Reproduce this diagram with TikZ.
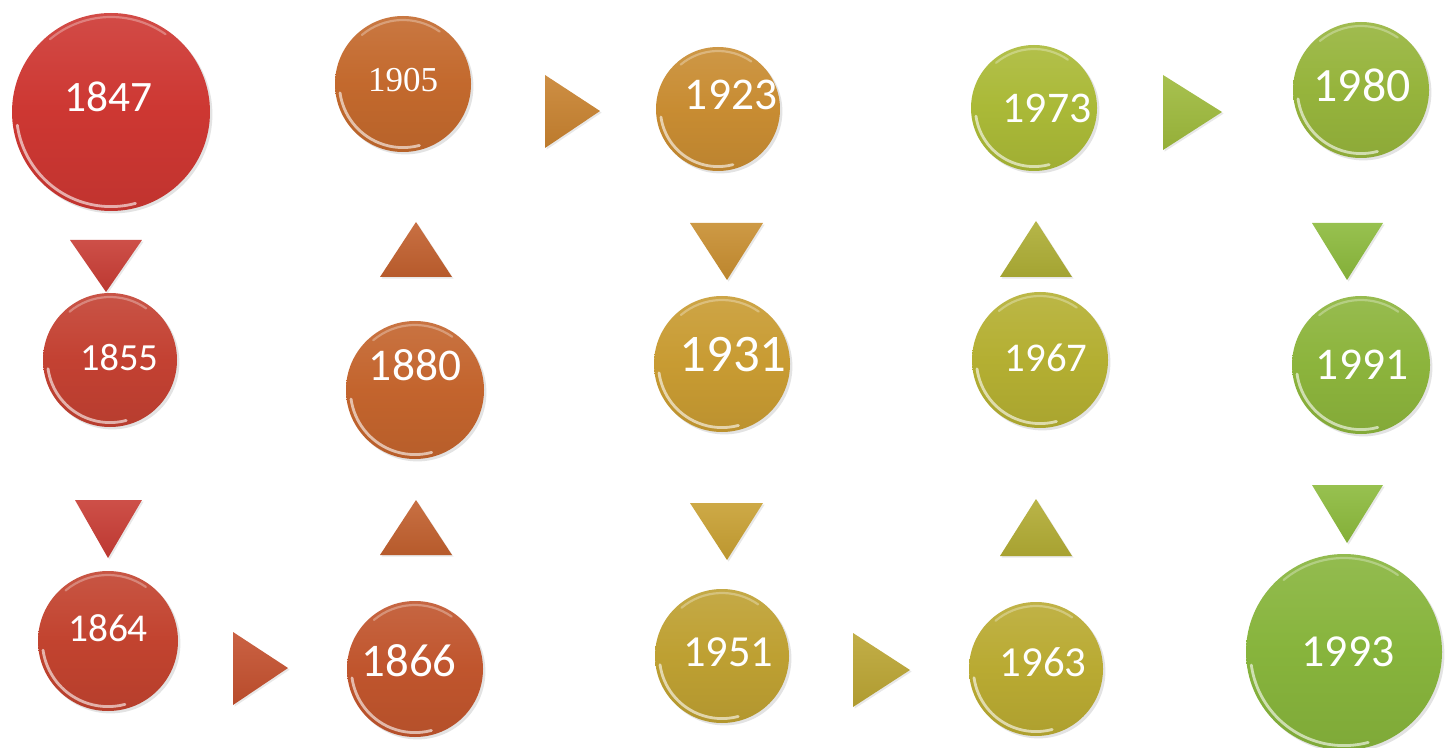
\documentclass[tikz,border=0pt]{standalone}
\usepackage{fontspec}
\setmainfont{Carlito}
\newfontfamily\cambriafont{Liberation Serif}
\usetikzlibrary{shadows}
\definecolor{c1847}{HTML}{CD3732}
\definecolor{c1855}{HTML}{C34132}
\definecolor{c1864}{HTML}{C2432F}
\definecolor{c1866}{HTML}{C0552D}
\definecolor{c1880}{HTML}{C3642D}
\definecolor{c1905}{HTML}{C3692D}
\definecolor{c1923}{HTML}{C88C32}
\definecolor{c1931}{HTML}{C89B32}
\definecolor{c1951}{HTML}{BEA032}
\definecolor{c1963}{HTML}{B9AA32}
\definecolor{c1967}{HTML}{B4AF32}
\definecolor{c1973}{HTML}{AAB937}
\definecolor{c1980}{HTML}{96B43C}
\definecolor{c1991}{HTML}{8CB43C}
\definecolor{c1993}{HTML}{87B43C}
\definecolor{tA}{HTML}{C83C34}
\definecolor{tB}{HTML}{C4502E}
\definecolor{tC}{HTML}{C2602E}
\definecolor{tD}{HTML}{C8822F}
\definecolor{tE}{HTML}{C88E30}
\definecolor{tF}{HTML}{C8A032}
\definecolor{tG}{HTML}{BBA533}
\definecolor{tH}{HTML}{AEAE35}
\definecolor{tI}{HTML}{B2AC34}
\definecolor{tJ}{HTML}{9EBA3C}
\definecolor{tK}{HTML}{8CBA3C}
\tikzset{
  ball/.style={circle, inner sep=0pt, outer sep=0pt,
    drop shadow={opacity=0.22, shadow xshift=1.2pt, shadow yshift=-1.2pt}},
  rim/.style={white, line width=1.4pt, opacity=0.6, line cap=round},
  sheen/.style={white, line width=1.1pt, opacity=0.3, line cap=round},
  yeartext/.style={text=white, inner sep=0pt},
  trishape/.style={drop shadow={opacity=0.18, shadow xshift=0.8pt, shadow yshift=-0.8pt}},
}
\newcommand\yball[5]{%
  \node[ball, minimum size=#4pt, top color=#5!90!white, bottom color=#5!94!black, middle color=#5] (#1) at (#2,#3) {};
  \draw[rim] ([shift={(188:{(#4/2-2.2)*1pt})}]#1.center) arc[start angle=188, end angle=285, radius={(#4/2-2.2)*1pt}];
  \draw[sheen] ([shift={(55:{(#4/2-2)*1pt})}]#1.center) arc[start angle=55, end angle=130, radius={(#4/2-2)*1pt}];
}
\newcommand\ytri[7]{%
  \path[trishape, top color=#7!90!white, bottom color=#7!94!black] (#1) -- (#2) -- (#3) -- cycle;
}
\begin{document}
\begin{tikzpicture}[x=0.5pt, y=-0.5pt]
\useasboundingbox (0,0) rectangle (1450,748);
\fill[white] (0,0) rectangle (1450,748);
% balls
\yball{b1847}{111}{112}{99}{c1847}
\yball{b1855}{110}{360}{67}{c1855}
\yball{b1864}{108}{641}{70}{c1864}
\yball{b1866}{415}{669}{68}{c1866}
\yball{b1880}{415}{390}{69}{c1880}
\yball{b1905}{403}{84}{68}{c1905}
\yball{b1923}{718}{109}{62}{c1923}
\yball{b1931}{722}{364}{68}{c1931}
\yball{b1951}{722}{656}{67}{c1951}
\yball{b1963}{1036}{669}{67}{c1963}
\yball{b1967}{1040}{360}{68}{c1967}
\yball{b1973}{1034}{108}{63}{c1973}
\yball{b1980}{1361}{90}{68}{c1980}
\yball{b1991}{1361}{365}{69}{c1991}
\yball{b1993}{1344}{652}{98}{c1993}
% triangles
\ytri{70,240}{142,240}{106,292}{}{}{}{tA}
\ytri{75,500}{142,500}{108,558}{}{}{}{tA}
\ytri{233,632}{233,705}{288,668}{}{}{}{tB}
\ytri{380,277}{452,277}{416,222}{}{}{}{tC}
\ytri{380,555}{452,555}{416,500}{}{}{}{tC}
\ytri{545,75}{545,148}{600,111}{}{}{}{tD}
\ytri{690,223}{763,223}{727,280}{}{}{}{tE}
\ytri{690,503}{763,503}{727,560}{}{}{}{tF}
\ytri{853,633}{853,707}{910,670}{}{}{}{tG}
\ytri{1000,277}{1072,277}{1036,221}{}{}{}{tH}
\ytri{1000,556}{1072,556}{1036,499}{}{}{}{tI}
\ytri{1163,75}{1163,150}{1222,112}{}{}{}{tJ}
\ytri{1312,223}{1383,223}{1347,280}{}{}{}{tK}
\ytri{1312,485}{1383,485}{1347,543}{}{}{}{tK}
% texts
\node[yeartext, font=\fontsize{21.7}{22}\selectfont] (t1847) at (108,97) {1847};
\node[yeartext, font=\fontsize{19.2}{20}\selectfont] (t1855) at (119,358) {1855};
\node[yeartext, font=\fontsize{19.7}{20}\selectfont] (t1864) at (108,628) {1864};
\node[yeartext, font=\fontsize{23.4}{24}\selectfont] (t1866) at (409,661) {1866};
\node[yeartext, font=\fontsize{22.7}{23}\selectfont] (t1880) at (415,365) {1880};
\node[yeartext, font=\cambriafont\fontsize{17.5}{18}\selectfont] (t1905) at (403,80) {1905};
\node[yeartext, font=\fontsize{22.7}{23}\selectfont] (t1923) at (731,95) {1923};
\node[yeartext, font=\fontsize{26.4}{27}\selectfont] (t1931) at (733,355) {1931};
\node[yeartext, font=\fontsize{22.2}{23}\selectfont] (t1951) at (728,652) {1951};
\node[yeartext, font=\fontsize{21.4}{22}\selectfont] (t1963) at (1043,662) {1963};
\node[yeartext, font=\fontsize{20.4}{21}\selectfont] (t1967) at (1046,358) {1967};
\node[yeartext, font=\fontsize{21.9}{22}\selectfont] (t1973) at (1047,108) {1973};
\node[yeartext, font=\fontsize{23.9}{24}\selectfont] (t1980) at (1362,85) {1980};
\node[yeartext, font=\fontsize{22.7}{23}\selectfont] (t1991) at (1362,365) {1991};
\node[yeartext, font=\fontsize{22.9}{23}\selectfont] (t1993) at (1348,652) {1993};
\end{tikzpicture}
\end{document}
